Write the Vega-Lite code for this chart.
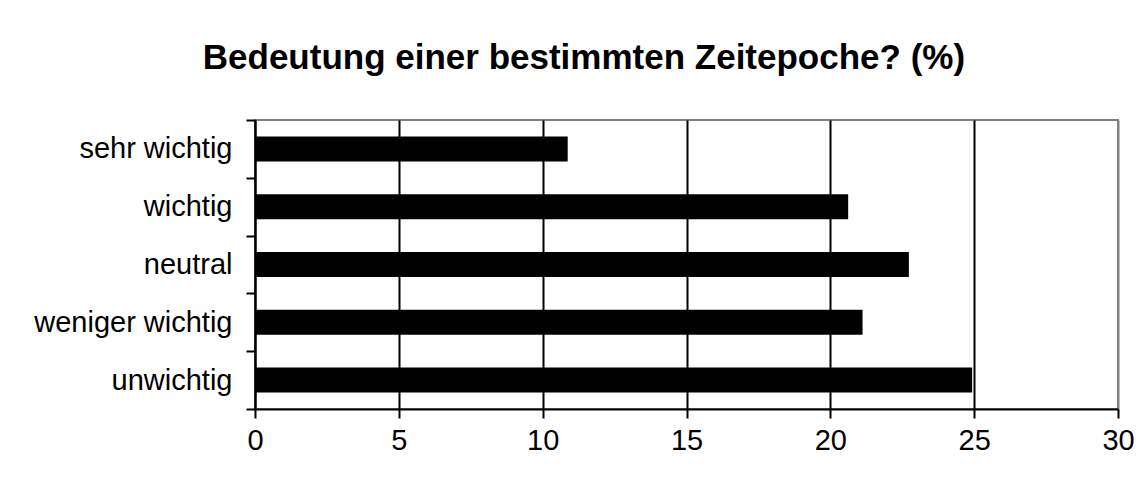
{
  "$schema": "https://vega.github.io/schema/vega-lite/v6.json",
  "autosize": {"type": "none"},
  "width": 863,
  "height": 289,
  "padding": {"left": 255, "top": 120, "right": 30, "bottom": 79},
  "background": "white",
  "title": {
    "text": "Bedeutung einer bestimmten Zeitepoche? (%)",
    "font": "Liberation Sans",
    "fontSize": 35,
    "fontWeight": "bold",
    "color": "black",
    "anchor": "middle",
    "frame": "bounds",
    "baseline": "alphabetic",
    "offset": 2
  },
  "config": {
    "view": {"stroke": "#808080", "strokeWidth": 2},
    "font": "Liberation Sans"
  },
  "data": {
    "values": [
      {"kategorie": "sehr wichtig", "prozent": 10.87},
      {"kategorie": "wichtig\u00a0", "prozent": 20.62},
      {"kategorie": "neutral", "prozent": 22.73},
      {"kategorie": "weniger wichtig", "prozent": 21.12},
      {"kategorie": "unwichtig", "prozent": 24.93}
    ]
  },
  "mark": {"type": "bar", "color": "black", "height": {"band": 0.433}},
  "encoding": {
    "y": {
      "field": "kategorie",
      "type": "nominal",
      "sort": null,
      "scale": {"paddingInner": 0, "paddingOuter": 0},
      "axis": {
        "title": null,
        "tickBand": "extent",
        "tickSize": 9,
        "tickColor": "black",
        "tickWidth": 2,
        "domainColor": "black",
        "domainWidth": 2,
        "labelFont": "Liberation Sans",
        "labelFontSize": 29,
        "labelColor": "black",
        "labelPadding": 14,
        "labelLimit": 400,
        "grid": false
      }
    },
    "x": {
      "field": "prozent",
      "type": "quantitative",
      "scale": {"domain": [0, 30], "nice": false},
      "axis": {
        "title": null,
        "values": [0, 5, 10, 15, 20, 25, 30],
        "grid": true,
        "gridColor": {"condition": {"test": "datum.value == 30", "value": "#808080"}, "value": "black"},
        "gridWidth": 2,
        "gridOpacity": 1,
        "tickSize": 9,
        "tickColor": "black",
        "tickWidth": 2,
        "domainColor": "black",
        "domainWidth": 2,
        "labelFont": "Liberation Sans",
        "labelFontSize": 29,
        "labelColor": "black",
        "labelPadding": 8,
        "labelFlush": false,
        "labelOverlap": false
      }
    }
  }
}
